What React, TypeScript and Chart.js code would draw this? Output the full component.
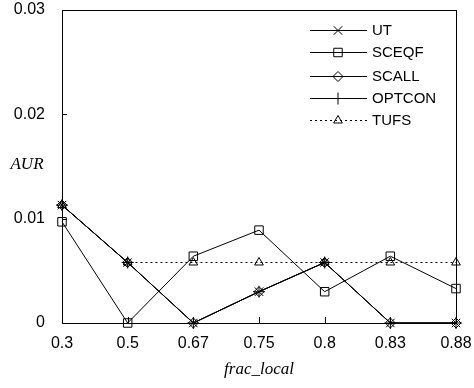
import React, { useEffect, useRef } from "react";
import { Chart, registerables } from "chart.js";
import { drawPoint } from "chart.js/helpers";

Chart.register(...registerables);

const categories = ["0.3", "0.5", "0.67", "0.75", "0.8", "0.83", "0.88"];
const utValues = [0.0113, 0.0058, 0, 0.003, 0.0058, 0, 0];
const sceqfValues = [0.0097, 0, 0.0064, 0.0089, 0.003, 0.0064, 0.0033];
const scallValues = [0.0113, 0.0058, 0, 0.003, 0.0058, 0, 0];
const optconValues = [0.0113, 0.0058, 0, 0.003, 0.0058, 0, 0];
const tufsValues = [0.0113, 0.0058, 0.0058, 0.0058, 0.0058, 0.0058, 0.0058];
const yTicks = [0, 0.01, 0.02, 0.03];

const FONT = "'Liberation Sans', Arial, sans-serif";
const SERIF = "'Liberation Serif', 'Times New Roman', serif";

const frame = {
  id: "frame",
  afterDraw(chart: any) {
    const { ctx, chartArea: a, scales } = chart;
    ctx.save();
    ctx.strokeStyle = "#000";
    ctx.lineWidth = 1;
    ctx.strokeRect(a.left + 0.5, a.top + 0.5, a.right - a.left, a.bottom - a.top);
    const ys = scales.y;
    yTicks.forEach((v) => {
      const y = Math.round(ys.getPixelForValue(v)) + 0.5;
      ctx.beginPath();
      ctx.moveTo(a.left, y);
      ctx.lineTo(a.left + 5, y);
      ctx.stroke();
    });
    const xs = scales.x;
    categories.forEach((_, i) => {
      const x = Math.round(xs.getPixelForValue(i)) + 0.5;
      ctx.beginPath();
      ctx.moveTo(x, a.bottom);
      ctx.lineTo(x, a.bottom - 6);
      ctx.stroke();
    });
    ctx.fillStyle = "#000";
    ctx.font = `italic 17px ${SERIF}`;
    ctx.textAlign = "center";
    ctx.textBaseline = "middle";
    ctx.fillText("AUR", 27, 165);
    ctx.fillText("frac_local", (a.left + a.right) / 2, 370);
    const rows = [30, 52, 76, 98, 120];
    chart.data.datasets.forEach((ds: any, i: number) => {
      const y = rows[i];
      ctx.save();
      ctx.strokeStyle = "#000";
      ctx.lineWidth = 1;
      ctx.setLineDash(ds.borderDash || []);
      ctx.beginPath();
      ctx.moveTo(310, y + 0.5);
      ctx.lineTo(367, y + 0.5);
      ctx.stroke();
      ctx.setLineDash([]);
      ctx.fillStyle = "rgba(0,0,0,0)";
      drawPoint(ctx, { pointStyle: ds.pointStyle, radius: ds.pointRadius, borderWidth: 1, rotation: 0 } as any, 338, y + 0.5);
      ctx.restore();
      ctx.fillStyle = "#000";
      ctx.font = `15px ${FONT}`;
      ctx.textAlign = "left";
      ctx.textBaseline = "middle";
      ctx.fillText(ds.label, 372, y + 1);
    });
    ctx.restore();
  },
};

export default function App() {
  const ref = useRef<HTMLCanvasElement>(null);
  useEffect(() => {
    document.body.style.margin = "0";
    const mk = (label: string, data: number[], pointStyle: string, radius: number, dash?: number[]) => ({
      label,
      data,
      pointStyle,
      pointRadius: radius,
      borderColor: "#000",
      borderWidth: 1,
      pointBorderColor: "#000",
      pointBackgroundColor: "rgba(0,0,0,0)",
      pointBorderWidth: 1,
      borderDash: dash,
      fill: false,
      tension: 0,
      clip: false,
    });
    const chart = new Chart(ref.current!, {
      type: "line",
      data: {
        labels: categories,
        datasets: [
          mk("UT", utValues, "crossRot", 6),
          mk("SCEQF", sceqfValues, "rect", 6),
          mk("SCALL", scallValues, "rectRot", 5),
          mk("OPTCON", optconValues, "cross", 6),
          mk("TUFS", tufsValues, "triangle", 5, [2, 3]),
        ] as any,
      },
      options: {
        animation: false,
        responsive: false,
        layout: { padding: { top: 10, right: 18, left: 0, bottom: 0 } },
        plugins: { legend: { display: false }, tooltip: { enabled: false } },
        scales: {
          x: {
            type: "category",
            offset: false,
            grid: { display: false, drawTicks: false },
            border: { display: false },
            ticks: { color: "#000", font: { family: FONT, size: 16 }, padding: 11, maxRotation: 0, autoSkip: false },
            afterFit: (s: any) => {
              s.height = 65;
              s.paddingLeft = 0;
              s.paddingRight = 0;
            },
          },
          y: {
            min: 0,
            max: 0.03,
            grid: { display: false, drawTicks: false },
            border: { display: false },
            ticks: {
              color: "#000",
              font: { family: FONT, size: 16 },
              padding: 17,
              stepSize: 0.01,
              callback: (v: any) => String(Number(v.toFixed(2))),
            },
            afterFit: (s: any) => {
              s.width = 62;
              s.paddingTop = 0;
              s.paddingBottom = 0;
            },
          },
        },
      },
      plugins: [frame],
    });
    return () => chart.destroy();
  }, []);
  return (
    <div style={{ width: 474, height: 388 }}>
      <canvas ref={ref} width={474} height={388} style={{ display: "block" }} />
    </div>
  );
}
